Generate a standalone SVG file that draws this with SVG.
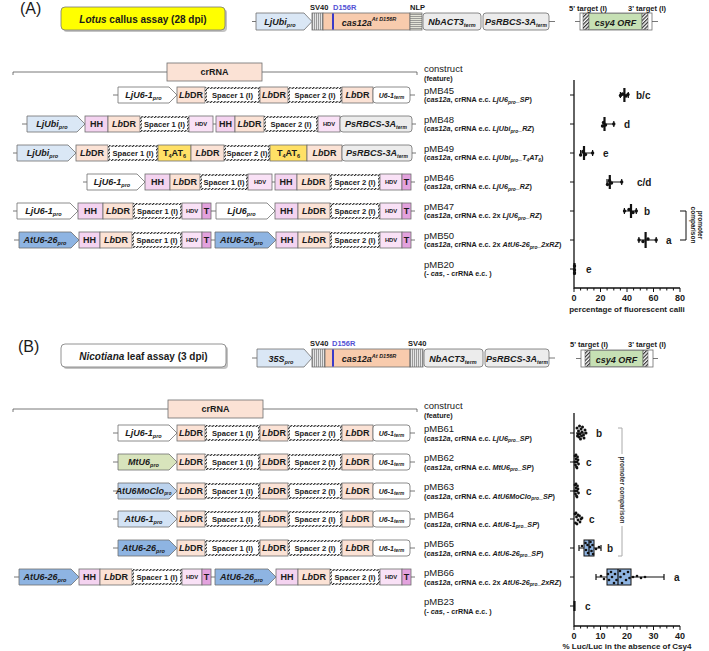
<svg xmlns="http://www.w3.org/2000/svg" width="709" height="651" viewBox="0 0 709 651">
<defs>
<pattern id="hz" width="2.4" height="2.4" patternUnits="userSpaceOnUse" patternTransform="rotate(45)"><rect width="2.4" height="2.4" fill="#fff"/><rect width="1.1" height="2.4" fill="#222"/></pattern>
<pattern id="vs" width="2" height="4" patternUnits="userSpaceOnUse"><rect width="2" height="4" fill="#e4e4e4"/><rect width="0.7" height="4" fill="#7a7a7a"/></pattern>
<pattern id="hs" width="4" height="2" patternUnits="userSpaceOnUse"><rect width="4" height="2" fill="#e4e4d8"/><rect width="4" height="0.7" fill="#7a7a7a"/></pattern>
<pattern id="dg" width="2.6" height="2.6" patternUnits="userSpaceOnUse" patternTransform="rotate(45)"><rect width="2.6" height="2.6" fill="#fff"/><rect width="1.2" height="2.6" fill="#333"/></pattern>
<style>
text{font-family:"Liberation Sans",Arial,Helvetica,sans-serif;fill:#1a1a1a}
.o{stroke:#6e6e6e;stroke-width:0.8}
.ln{stroke:#555;stroke-width:0.8;fill:none}
.w{fill:#fff}.lb{fill:#dae7f5}.bl{fill:#8eb4e2}.bl2{fill:#d3e3f5}.bl3{fill:#bcd3ee}.gr{fill:#d8e4bc}
.dr{fill:#fbe2d5}.hh{fill:#f4d3f0}.hd{fill:#f9e1f6}.tt{fill:#e3a2de}.ta{fill:#ffe066}.tm{fill:#ececec}
.sp{fill:#fff;stroke:url(#hz);stroke-width:2}
.c9{font-size:9px;font-weight:bold;text-anchor:middle}
.c8{font-size:7.6px;font-weight:bold;text-anchor:middle}
.c6{font-size:5.8px;font-weight:bold;text-anchor:middle}
.pr{font-size:9px;font-weight:bold;font-style:italic;text-anchor:middle}
.tmx{font-size:7px;font-weight:bold;font-style:italic;text-anchor:middle}
.l1{font-size:9.5px}
.l2{font-size:7.2px;font-weight:bold}
.i{font-style:italic}
.s{font-size:4.8px}
.sb{font-size:5.5px}
.tl{font-size:7.5px;font-weight:bold}
.lt{font-size:10px;font-weight:bold}
.ax{stroke:#111;stroke-width:1.3;fill:none}
.tk{stroke:#111;stroke-width:1;fill:none}
.eb{stroke:#111;stroke-width:1.2;fill:none}
.mn{stroke:#111;stroke-width:2.2}
.dt{fill:#111}
.ak{font-size:9px;font-weight:bold;text-anchor:middle}
.at{font-size:8px;font-weight:bold;text-anchor:middle}
.bx{fill:#8eb4e2;stroke:#111;stroke-width:1}
.br{stroke:#aaa;stroke-width:1;fill:none}
.pc{font-size:6.5px;font-weight:bold;text-anchor:middle}
</style>
</defs>
<rect width="709" height="651" fill="#fff"/>

<!-- ================= PANEL A ================= -->
<text x="20" y="14" font-size="16">(A)</text>
<g id="lotus-title">
<rect x="63" y="9" width="164" height="23" rx="4" fill="#c4c4c4"/>
<rect x="61" y="7" width="164" height="23" rx="4" fill="#ffff00" stroke="#777" stroke-width="0.8"/>
<text class="lt" x="143" y="22.5" text-anchor="middle"><tspan class="i">Lotus</tspan> callus assay (28 dpi)</text>
</g>

<g id="A-cas-construct">
<line class="ln" x1="252" y1="21.5" x2="256" y2="21.5"/>
<polygon class="o lb" points="256,13 304,13 312,21.5 304,30 256,30"/>
<text class="pr" x="280" y="25">LjUbi<tspan class="sb" dy="2">pro</tspan></text>
<rect class="o" x="312" y="13" width="11" height="17" fill="url(#vs)"/>
<rect class="o" x="323" y="13" width="87" height="17" fill="#f8cbad"/>
<rect x="332" y="13.4" width="2" height="16.2" fill="#3b3bc8"/>
<text class="pr" x="369" y="25.5" font-size="10">cas12a<tspan font-size="5.5" dy="-4.5">At D156R</tspan></text>
<rect class="o" x="410" y="13" width="12" height="17" fill="url(#hs)"/>
<rect class="o tm" x="423" y="13" width="58" height="17" rx="3"/>
<text class="pr" x="452" y="25">NbACT3<tspan class="sb" dy="2">term</tspan></text>
<rect class="o tm" x="483" y="13" width="66" height="17" rx="3"/>
<text class="pr" x="516" y="25" font-size="8.5">PsRBCS-3A<tspan font-size="5" dy="2">term</tspan></text>
<line class="ln" x1="549" y1="21.5" x2="555" y2="21.5"/>
<text class="tl" x="310" y="10">SV40</text>
<text class="tl" x="333" y="10" style="fill:#5252d4">D156R</text>
<text class="tl" x="410" y="10">NLP</text>
</g>

<g id="A-csy4-construct">
<line class="ln" x1="575" y1="21.5" x2="580" y2="21.5"/>
<rect class="o w" x="580" y="13" width="72" height="17"/>
<rect x="583" y="13.5" width="6" height="16" fill="url(#dg)" stroke="#555" stroke-width="0.5"/>
<rect x="589" y="13.5" width="53" height="16" fill="#c6e0b4" stroke="#555" stroke-width="0.5"/>
<rect x="642" y="13.5" width="6" height="16" fill="url(#dg)" stroke="#555" stroke-width="0.5"/>
<text class="pr" x="615.5" y="25.5" font-size="10.5">csy4 ORF</text>
<line class="ln" x1="652" y1="21.5" x2="658" y2="21.5"/>
<text class="tl" x="569" y="10.5" font-size="7">5' target (I)</text>
<text class="tl" x="628" y="10.5" font-size="7">3' target (I)</text>
</g>

<g id="A-crRNA-bracket">
<path class="ln" d="M13,75V72H167 M262,72H417V75"/>
<rect class="o dr" x="167" y="63" width="95" height="18"/>
<text class="c9" x="214.5" y="75.3">crRNA</text>
<text class="l1" x="424" y="72">construct</text>
<text class="l2" x="424" y="81">(feature)</text>
</g>

<!-- A rows -->
<g id="pMB45">
<line class="ln" x1="113" y1="95" x2="118" y2="95"/>
<polygon class="o w" points="118,87 169,87 177,95 169,103 118,103"/>
<text class="pr" x="143.5" y="98.2">LjU6-1<tspan class="sb" dy="2">pro</tspan></text>
<rect class="o dr" x="177" y="87" width="28" height="16"/><text class="c9" x="191" y="98.2"><tspan class="i">Lb</tspan>DR</text>
<rect class="sp" x="206" y="88" width="53" height="14"/><text class="c8" x="232.5" y="97.7">Spacer 1 (I)</text>
<rect class="o dr" x="260" y="87" width="28" height="16"/><text class="c9" x="274" y="98.2"><tspan class="i">Lb</tspan>DR</text>
<rect class="sp" x="289" y="88" width="52" height="14"/><text class="c8" x="315" y="97.7">Spacer 2 (I)</text>
<rect class="o dr" x="342" y="87" width="31" height="16"/><text class="c9" x="357.5" y="98.2"><tspan class="i">Lb</tspan>DR</text>
<rect class="o w" x="373" y="87" width="37" height="16" rx="3"/><text class="tmx" x="391.5" y="97.7">U6-1<tspan class="s" dy="1.5">term</tspan></text>
<line class="ln" x1="410" y1="95" x2="415" y2="95"/>
<text class="l1" x="424" y="94">pMB45</text>
<text class="l2" x="424" y="102">(<tspan class="i">cas12a</tspan>, crRNA e.c. <tspan class="i">LjU6</tspan><tspan class="i s" dy="1.5">pro</tspan><tspan class="i" dy="-1.5">_SP</tspan>)</text>
</g>

<g id="pMB48">
<line class="ln" x1="22" y1="124" x2="27" y2="124"/>
<polygon class="o lb" points="27,116 77,116 85,124 77,132 27,132"/>
<text class="pr" x="52" y="127.2">LjUbi<tspan class="sb" dy="2">pro</tspan></text>
<rect class="o hh" x="85" y="116" width="23" height="16"/><text class="c9" x="96.5" y="127.2">HH</text>
<rect class="o dr" x="108" y="116" width="32" height="16"/><text class="c9" x="124" y="127.2"><tspan class="i">Lb</tspan>DR</text>
<rect class="sp" x="141" y="117" width="47" height="14"/><text class="c8" x="164.5" y="126.7">Spacer 1 (I)</text>
<rect class="o hd" x="189" y="116" width="24" height="16"/><text class="c6" x="201" y="126.1">HDV</text>
<line class="ln" x1="213" y1="124" x2="216" y2="124"/>
<rect class="o hh" x="216" y="116" width="19" height="16"/><text class="c9" x="225.5" y="127.2">HH</text>
<rect class="o dr" x="235" y="116" width="29" height="16"/><text class="c9" x="249.5" y="127.2"><tspan class="i">Lb</tspan>DR</text>
<rect class="sp" x="265" y="117" width="52" height="14"/><text class="c8" x="291" y="126.7">Spacer 2 (I)</text>
<rect class="o hd" x="318" y="116" width="22" height="16"/><text class="c6" x="329" y="126.1">HDV</text>
<rect class="o tm" x="340" y="116" width="72" height="16" rx="3"/><text class="pr" x="376" y="127" font-size="8.5">PsRBCS-3A<tspan font-size="5" dy="2">term</tspan></text>
<line class="ln" x1="412" y1="124" x2="416" y2="124"/>
<text class="l1" x="424" y="123">pMB48</text>
<text class="l2" x="424" y="131">(<tspan class="i">cas12a</tspan>, crRNA e.c. <tspan class="i">LjUbi</tspan><tspan class="i s" dy="1.5">pro</tspan><tspan class="i" dy="-1.5">_RZ</tspan>)</text>
</g>

<g id="pMB49">
<line class="ln" x1="13" y1="153" x2="17" y2="153"/>
<polygon class="o lb" points="17,145 68,145 76,153 68,161 17,161"/>
<text class="pr" x="42.5" y="156.2">LjUbi<tspan class="sb" dy="2">pro</tspan></text>
<rect class="o dr" x="76" y="145" width="32" height="16"/><text class="c9" x="92" y="156.2"><tspan class="i">Lb</tspan>DR</text>
<rect class="sp" x="109" y="146" width="48" height="14"/><text class="c8" x="133" y="155.7">Spacer 1 (I)</text>
<rect class="o ta" x="158" y="145" width="33" height="16"/><text class="c9" x="174.5" y="156.2">T<tspan class="sb" dy="2">4</tspan><tspan dy="-2">AT</tspan><tspan class="sb" dy="2">6</tspan></text>
<rect class="o dr" x="191" y="145" width="33" height="16"/><text class="c9" x="207.5" y="156.2"><tspan class="i">Lb</tspan>DR</text>
<rect class="sp" x="225" y="146" width="44" height="14"/><text class="c8" x="247" y="155.7" font-size="7.2">Spacer 2 (I)</text>
<rect class="o ta" x="270" y="145" width="37" height="16"/><text class="c9" x="288.5" y="156.2">T<tspan class="sb" dy="2">4</tspan><tspan dy="-2">AT</tspan><tspan class="sb" dy="2">6</tspan></text>
<rect class="o dr" x="307" y="145" width="35" height="16"/><text class="c9" x="324.5" y="156.2"><tspan class="i">Lb</tspan>DR</text>
<rect class="o tm" x="342" y="145" width="70" height="16" rx="3"/><text class="pr" x="377" y="156" font-size="8.5">PsRBCS-3A<tspan font-size="5" dy="2">term</tspan></text>
<line class="ln" x1="412" y1="153" x2="416" y2="153"/>
<text class="l1" x="424" y="152">pMB49</text>
<text class="l2" x="424" y="160">(<tspan class="i">cas12a</tspan>, crRNA e.c. <tspan class="i">LjUbi</tspan><tspan class="i s" dy="1.5">pro</tspan><tspan class="i" dy="-1.5">_T</tspan><tspan class="i s" dy="1.5">4</tspan><tspan class="i" dy="-1.5">AT</tspan><tspan class="i s" dy="1.5">6</tspan><tspan dy="-1.5">)</tspan></text>
</g>

<g id="pMB46">
<line class="ln" x1="83" y1="182" x2="87" y2="182"/>
<polygon class="o w" points="87,174 137,174 145,182 137,190 87,190"/>
<text class="pr" x="112" y="185.2">LjU6-1<tspan class="sb" dy="2">pro</tspan></text>
<rect class="o hh" x="145" y="174" width="25" height="16"/><text class="c9" x="157.5" y="185.2">HH</text>
<rect class="o dr" x="170" y="174" width="30" height="16"/><text class="c9" x="185" y="185.2"><tspan class="i">Lb</tspan>DR</text>
<rect class="sp" x="201" y="175" width="46" height="14"/><text class="c8" x="224" y="184.7">Spacer 1 (I)</text>
<rect class="o hd" x="248" y="174" width="24" height="16"/><text class="c6" x="260" y="184.1">HDV</text>
<line class="ln" x1="272" y1="182" x2="275" y2="182"/>
<rect class="o hh" x="275" y="174" width="22" height="16"/><text class="c9" x="286" y="185.2">HH</text>
<rect class="o dr" x="297" y="174" width="33" height="16"/><text class="c9" x="313.5" y="185.2"><tspan class="i">Lb</tspan>DR</text>
<rect class="sp" x="331" y="175" width="48" height="14"/><text class="c8" x="355" y="184.7">Spacer 2 (I)</text>
<rect class="o hd" x="380" y="174" width="22" height="16"/><text class="c6" x="391" y="184.1">HDV</text>
<rect class="o tt" x="402" y="174" width="9" height="16"/><text class="c9" x="406.5" y="185.2">T</text>
<line class="ln" x1="411" y1="182" x2="415" y2="182"/>
<text class="l1" x="424" y="181">pMB46</text>
<text class="l2" x="424" y="189">(<tspan class="i">cas12a</tspan>, crRNA e.c. <tspan class="i">LjU6</tspan><tspan class="i s" dy="1.5">pro</tspan><tspan class="i" dy="-1.5">_RZ</tspan>)</text>
</g>

<g id="pMB47">
<line class="ln" x1="13" y1="211" x2="17" y2="211"/>
<polygon class="o w" points="17,203 70,203 78,211 70,219 17,219"/>
<text class="pr" x="43.5" y="214.2">LjU6-1<tspan class="sb" dy="2">pro</tspan></text>
<rect class="o hh" x="78" y="203" width="25" height="16"/><text class="c9" x="90.5" y="214.2">HH</text>
<rect class="o dr" x="103" y="203" width="30" height="16"/><text class="c9" x="118" y="214.2"><tspan class="i">Lb</tspan>DR</text>
<rect class="sp" x="134" y="204" width="47" height="14"/><text class="c8" x="157.5" y="213.7">Spacer 1 (I)</text>
<rect class="o hd" x="182" y="203" width="20" height="16"/><text class="c6" x="192" y="213.1">HDV</text>
<rect class="o tt" x="202" y="203" width="9" height="16"/><text class="c9" x="206.5" y="214.2">T</text>
<line class="ln" x1="211" y1="211" x2="216" y2="211"/>
<polygon class="o w" points="216,203 267,203 275,211 267,219 216,219"/>
<text class="pr" x="241.5" y="214.2">LjU6<tspan class="sb" dy="2">pro</tspan></text>
<rect class="o hh" x="275" y="203" width="23" height="16"/><text class="c9" x="286.5" y="214.2">HH</text>
<rect class="o dr" x="298" y="203" width="32" height="16"/><text class="c9" x="314" y="214.2"><tspan class="i">Lb</tspan>DR</text>
<rect class="sp" x="331" y="204" width="48" height="14"/><text class="c8" x="355" y="213.7">Spacer 2 (I)</text>
<rect class="o hd" x="380" y="203" width="22" height="16"/><text class="c6" x="391" y="213.1">HDV</text>
<rect class="o tt" x="402" y="203" width="9" height="16"/><text class="c9" x="406.5" y="214.2">T</text>
<line class="ln" x1="411" y1="211" x2="415" y2="211"/>
<text class="l1" x="424" y="210">pMB47</text>
<text class="l2" x="424" y="218">(<tspan class="i">cas12a</tspan>, crRNA e.c. 2x <tspan class="i">LjU6</tspan><tspan class="i s" dy="1.5">pro</tspan><tspan class="i" dy="-1.5">_RZ</tspan>)</text>
</g>

<g id="pMB50">
<line class="ln" x1="14" y1="240" x2="19" y2="240"/>
<polygon class="o bl" points="19,232 71,232 79,240 71,248 19,248"/>
<text class="pr" x="45" y="243.2">AtU6-26<tspan class="sb" dy="2">pro</tspan></text>
<rect class="o hh" x="79" y="232" width="21" height="16"/><text class="c9" x="89.5" y="243.2">HH</text>
<rect class="o dr" x="100" y="232" width="32" height="16"/><text class="c9" x="116" y="243.2"><tspan class="i">Lb</tspan>DR</text>
<rect class="sp" x="133" y="233" width="48" height="14"/><text class="c8" x="157" y="242.7">Spacer 1 (I)</text>
<rect class="o hd" x="182" y="232" width="20" height="16"/><text class="c6" x="192" y="242.1">HDV</text>
<rect class="o tt" x="202" y="232" width="9" height="16"/><text class="c9" x="206.5" y="243.2">T</text>
<line class="ln" x1="211" y1="240" x2="215" y2="240"/>
<polygon class="o bl" points="215,232 268,232 276,240 268,248 215,248"/>
<text class="pr" x="241.5" y="243.2">AtU6-26<tspan class="sb" dy="2">pro</tspan></text>
<rect class="o hh" x="276" y="232" width="22" height="16"/><text class="c9" x="287" y="243.2">HH</text>
<rect class="o dr" x="298" y="232" width="32" height="16"/><text class="c9" x="314" y="243.2"><tspan class="i">Lb</tspan>DR</text>
<rect class="sp" x="331" y="233" width="48" height="14"/><text class="c8" x="355" y="242.7">Spacer 2 (I)</text>
<rect class="o hd" x="380" y="232" width="22" height="16"/><text class="c6" x="391" y="242.1">HDV</text>
<rect class="o tt" x="402" y="232" width="9" height="16"/><text class="c9" x="406.5" y="243.2">T</text>
<line class="ln" x1="411" y1="240" x2="415" y2="240"/>
<text class="l1" x="424" y="239">pMB50</text>
<text class="l2" x="424" y="247">(<tspan class="i">cas12a</tspan>, crRNA e.c. 2x <tspan class="i">AtU6-26</tspan><tspan class="i s" dy="1.5">pro</tspan><tspan class="i" dy="-1.5">_2xRZ</tspan>)</text>
</g>

<g id="pMB20">
<text class="l1" x="424" y="268">pMB20</text>
<text class="l2" x="424" y="276">(- <tspan class="i">cas</tspan>, - crRNA e.c. )</text>
</g>

<!-- Chart A -->
<g id="chartA">
<path class="ax" d="M574,80V288H680"/>
<path class="tk" d="M570,95h4 M570,124h4 M570,153h4 M570,182h4 M570,211h4 M570,240h4 M570,269h4"/>
<path class="tk" d="M574,288v4 M580.6,288v2.5 M587.3,288v2.5 M593.9,288v2.5 M600.5,288v4 M607.1,288v2.5 M613.8,288v2.5 M620.4,288v2.5 M627,288v4 M633.6,288v2.5 M640.3,288v2.5 M646.9,288v2.5 M653.5,288v4 M660.1,288v2.5 M666.8,288v2.5 M673.4,288v2.5 M680,288v4"/>
<text class="ak" x="574" y="300.5">0</text><text class="ak" x="600.5" y="300.5">20</text><text class="ak" x="627" y="300.5">40</text><text class="ak" x="653.5" y="300.5">60</text><text class="ak" x="680" y="300.5">80</text>
<text class="at" x="627" y="311.5">percentage of fluorescent calli</text>
<path class="eb" d="M620.4,95H628.3 M620.4,92v6 M628.3,92v6"/><line class="mn" x1="624.4" y1="88" x2="624.4" y2="102"/>
<circle class="dt" cx="620.5" cy="95.5" r="1.7"/><circle class="dt" cx="622.5" cy="94" r="1.7"/><circle class="dt" cx="626" cy="96" r="1.7"/><circle class="dt" cx="628" cy="94.5" r="1.7"/>
<text class="lt" x="636" y="98.5">b/c</text>
<path class="eb" d="M602.5,124H613.8 M613.8,121v6"/><line class="mn" x1="604.5" y1="117" x2="604.5" y2="131"/>
<circle class="dt" cx="602.5" cy="126" r="1.7"/><circle class="dt" cx="603.5" cy="122.5" r="1.7"/><circle class="dt" cx="605.5" cy="125" r="1.7"/><circle class="dt" cx="613.8" cy="124" r="1.7"/>
<text class="lt" x="624" y="127.5">d</text>
<path class="eb" d="M580.6,153H592.6 M580.6,150v6 M592.6,150v6"/><line class="mn" x1="584" y1="146" x2="584" y2="160"/>
<circle class="dt" cx="580.6" cy="155" r="1.7"/><circle class="dt" cx="583" cy="151.5" r="1.7"/><circle class="dt" cx="585.5" cy="154.5" r="1.7"/><circle class="dt" cx="592.6" cy="153" r="1.7"/>
<text class="lt" x="603" y="156.5">e</text>
<path class="eb" d="M607,182H621.7 M607,179v6 M621.7,179v6"/><line class="mn" x1="609.8" y1="175" x2="609.8" y2="189"/>
<circle class="dt" cx="607.5" cy="184.5" r="1.7"/><circle class="dt" cx="609.5" cy="180.5" r="1.7"/><circle class="dt" cx="611.5" cy="183" r="1.7"/><circle class="dt" cx="621.7" cy="182" r="1.7"/>
<text class="lt" x="637" y="185.5">c/d</text>
<path class="eb" d="M624.4,211H636.3 M624.4,208v6 M636.3,208v6"/><line class="mn" x1="631" y1="204" x2="631" y2="218"/>
<circle class="dt" cx="624.5" cy="211" r="1.7"/><circle class="dt" cx="629" cy="209.5" r="1.7"/><circle class="dt" cx="633" cy="212.5" r="1.7"/><circle class="dt" cx="636.3" cy="211" r="1.7"/>
<text class="lt" x="644" y="214.5">b</text>
<path class="eb" d="M638.9,240H656.2 M638.9,237v6 M656.2,237v6"/><line class="mn" x1="645.6" y1="232" x2="645.6" y2="248"/>
<circle class="dt" cx="639" cy="240" r="1.7"/><circle class="dt" cx="643" cy="241.5" r="1.7"/><circle class="dt" cx="648" cy="239" r="1.7"/><circle class="dt" cx="656.2" cy="240" r="1.7"/>
<text class="lt" x="666" y="243.5">a</text>
<line class="mn" x1="574.5" y1="263" x2="574.5" y2="275"/>
<circle class="dt" cx="574.5" cy="266" r="1.7"/><circle class="dt" cx="574.5" cy="270" r="1.7"/><circle class="dt" cx="574.5" cy="273" r="1.7"/>
<text class="lt" x="586" y="272.5">e</text>
</g>
<g id="A-promoter-comparison">
<path class="eb" d="M680,211H686V240H680" style="stroke-width:1"/>
<text class="pc" transform="translate(698,225) rotate(90)">promoter</text>
<text class="pc" transform="translate(690.5,225) rotate(90)">comparison</text>
</g>

<!-- ================= PANEL B ================= -->
<text x="18" y="352" font-size="16">(B)</text>
<g id="nicotiana-title">
<rect x="63" y="346" width="165" height="23" rx="4" fill="#c4c4c4"/>
<rect x="61" y="344" width="165" height="23" rx="4" fill="#fff" stroke="#777" stroke-width="0.8"/>
<text class="lt" x="143.5" y="359.5" text-anchor="middle"><tspan class="i">Nicotiana</tspan> leaf assay (3 dpi)</text>
</g>

<g id="B-cas-construct">
<line class="ln" x1="252" y1="358" x2="257" y2="358"/>
<polygon class="o lb" points="257,349 304,349 312,358 304,367 257,367"/>
<text class="pr" x="281" y="361.5">35S<tspan class="sb" dy="2">pro</tspan></text>
<rect class="o" x="312" y="349" width="13" height="18" fill="url(#vs)"/>
<rect class="o" x="325" y="349" width="85" height="18" fill="#f8cbad"/>
<rect x="332" y="349.4" width="2" height="17.2" fill="#3b3bc8"/>
<text class="pr" x="369" y="362" font-size="10">cas12a<tspan font-size="5.5" dy="-4.5">At D156R</tspan></text>
<rect class="o" x="410" y="349" width="13" height="18" fill="url(#vs)"/>
<rect class="o tm" x="424" y="349" width="59" height="18" rx="3"/>
<text class="pr" x="453" y="361.5">NbACT3<tspan class="sb" dy="2">term</tspan></text>
<rect class="o tm" x="485" y="349" width="64" height="18" rx="3"/>
<text class="pr" x="517" y="361.5" font-size="8.5">PsRBCS-3A<tspan font-size="5" dy="2">term</tspan></text>
<line class="ln" x1="549" y1="358" x2="555" y2="358"/>
<text class="tl" x="310" y="346">SV40</text>
<text class="tl" x="332" y="346" style="fill:#5252d4">D156R</text>
<text class="tl" x="408" y="346">SV40</text>
</g>

<g id="B-csy4-construct">
<line class="ln" x1="576" y1="358.5" x2="581" y2="358.5"/>
<rect class="o w" x="581" y="350" width="72" height="17"/>
<rect x="585" y="350.5" width="5" height="16" fill="url(#dg)" stroke="#555" stroke-width="0.5"/>
<rect x="590" y="350.5" width="53" height="16" fill="#c6e0b4" stroke="#555" stroke-width="0.5"/>
<rect x="643" y="350.5" width="5" height="16" fill="url(#dg)" stroke="#555" stroke-width="0.5"/>
<text class="pr" x="616.5" y="362.5" font-size="10.5">csy4 ORF</text>
<line class="ln" x1="653" y1="358.5" x2="658" y2="358.5"/>
<text class="tl" x="570" y="347" font-size="7">5' target (I)</text>
<text class="tl" x="628" y="347" font-size="7">3' target (I)</text>
</g>

<g id="B-crRNA-bracket">
<path class="ln" d="M13,412V409H168 M263,409H417V412"/>
<rect class="o dr" x="168" y="400" width="95" height="18"/>
<text class="c9" x="215.5" y="412.3">crRNA</text>
<text class="l1" x="424" y="409">construct</text>
<text class="l2" x="424" y="418">(feature)</text>
</g>

<g id="pMB61">
<line class="ln" x1="113" y1="433" x2="118" y2="433"/>
<polygon class="o w" points="118,425 169,425 177,433 169,441 118,441"/>
<text class="pr" x="143.5" y="436.2">LjU6-1<tspan class="sb" dy="2">pro</tspan></text>
<rect class="o dr" x="177" y="425" width="28" height="16"/><text class="c9" x="191" y="436.2"><tspan class="i">Lb</tspan>DR</text>
<rect class="sp" x="206" y="426" width="53" height="14"/><text class="c8" x="232.5" y="435.7">Spacer 1 (I)</text>
<rect class="o dr" x="260" y="425" width="28" height="16"/><text class="c9" x="274" y="436.2"><tspan class="i">Lb</tspan>DR</text>
<rect class="sp" x="289" y="426" width="52" height="14"/><text class="c8" x="315" y="435.7">Spacer 2 (I)</text>
<rect class="o dr" x="342" y="425" width="31" height="16"/><text class="c9" x="357.5" y="436.2"><tspan class="i">Lb</tspan>DR</text>
<rect class="o w" x="373" y="425" width="37" height="16" rx="3"/><text class="tmx" x="391.5" y="435.7">U6-1<tspan class="s" dy="1.5">term</tspan></text>
<line class="ln" x1="410" y1="433" x2="415" y2="433"/>
<text class="l1" x="424" y="432">pMB61</text>
<text class="l2" x="424" y="440.5">(<tspan class="i">cas12a</tspan>, crRNA e.c. <tspan class="i">LjU6</tspan><tspan class="i s" dy="1.5">pro</tspan><tspan class="i" dy="-1.5">_SP</tspan>)</text>
</g>

<g id="pMB62">
<line class="ln" x1="113" y1="462" x2="118" y2="462"/>
<polygon class="o gr" points="118,454 169,454 177,462 169,470 118,470"/>
<text class="pr" x="143.5" y="465.2">MtU6<tspan class="sb" dy="2">pro</tspan></text>
<rect class="o dr" x="177" y="454" width="28" height="16"/><text class="c9" x="191" y="465.2"><tspan class="i">Lb</tspan>DR</text>
<rect class="sp" x="206" y="455" width="53" height="14"/><text class="c8" x="232.5" y="464.7">Spacer 1 (I)</text>
<rect class="o dr" x="260" y="454" width="28" height="16"/><text class="c9" x="274" y="465.2"><tspan class="i">Lb</tspan>DR</text>
<rect class="sp" x="289" y="455" width="52" height="14"/><text class="c8" x="315" y="464.7">Spacer 2 (I)</text>
<rect class="o dr" x="342" y="454" width="31" height="16"/><text class="c9" x="357.5" y="465.2"><tspan class="i">Lb</tspan>DR</text>
<rect class="o w" x="373" y="454" width="37" height="16" rx="3"/><text class="tmx" x="391.5" y="464.7">U6-1<tspan class="s" dy="1.5">term</tspan></text>
<line class="ln" x1="410" y1="462" x2="415" y2="462"/>
<text class="l1" x="424" y="461">pMB62</text>
<text class="l2" x="424" y="469.5">(<tspan class="i">cas12a</tspan>, crRNA e.c. <tspan class="i">MtU6</tspan><tspan class="i s" dy="1.5">pro</tspan><tspan class="i" dy="-1.5">_SP</tspan>)</text>
</g>

<g id="pMB63">
<line class="ln" x1="113" y1="491" x2="118" y2="491"/>
<polygon class="o bl3" points="118,483 169,483 177,491 169,499 118,499"/>
<text class="pr" x="143.5" y="493.6" font-size="7">AtU6MoClo<tspan font-size="4.5" dy="1.5">pro</tspan></text>
<rect class="o dr" x="177" y="483" width="28" height="16"/><text class="c9" x="191" y="494.2"><tspan class="i">Lb</tspan>DR</text>
<rect class="sp" x="206" y="484" width="53" height="14"/><text class="c8" x="232.5" y="493.7">Spacer 1 (I)</text>
<rect class="o dr" x="260" y="483" width="28" height="16"/><text class="c9" x="274" y="494.2"><tspan class="i">Lb</tspan>DR</text>
<rect class="sp" x="289" y="484" width="52" height="14"/><text class="c8" x="315" y="493.7">Spacer 2 (I)</text>
<rect class="o dr" x="342" y="483" width="31" height="16"/><text class="c9" x="357.5" y="494.2"><tspan class="i">Lb</tspan>DR</text>
<rect class="o w" x="373" y="483" width="37" height="16" rx="3"/><text class="tmx" x="391.5" y="493.7">U6-1<tspan class="s" dy="1.5">term</tspan></text>
<line class="ln" x1="410" y1="491" x2="415" y2="491"/>
<text class="l1" x="424" y="490">pMB63</text>
<text class="l2" x="424" y="498.5">(<tspan class="i">cas12a</tspan>, crRNA e.c. <tspan class="i">AtU6MoClo</tspan><tspan class="i s" dy="1.5">pro</tspan><tspan class="i" dy="-1.5">_SP</tspan>)</text>
</g>

<g id="pMB64">
<line class="ln" x1="113" y1="519" x2="118" y2="519"/>
<polygon class="o bl2" points="118,511 169,511 177,519 169,527 118,527"/>
<text class="pr" x="143.5" y="522.2">AtU6-1<tspan class="sb" dy="2">pro</tspan></text>
<rect class="o dr" x="177" y="511" width="28" height="16"/><text class="c9" x="191" y="522.2"><tspan class="i">Lb</tspan>DR</text>
<rect class="sp" x="206" y="512" width="53" height="14"/><text class="c8" x="232.5" y="521.7">Spacer 1 (I)</text>
<rect class="o dr" x="260" y="511" width="28" height="16"/><text class="c9" x="274" y="522.2"><tspan class="i">Lb</tspan>DR</text>
<rect class="sp" x="289" y="512" width="52" height="14"/><text class="c8" x="315" y="521.7">Spacer 2 (I)</text>
<rect class="o dr" x="342" y="511" width="31" height="16"/><text class="c9" x="357.5" y="522.2"><tspan class="i">Lb</tspan>DR</text>
<rect class="o w" x="373" y="511" width="37" height="16" rx="3"/><text class="tmx" x="391.5" y="521.7">U6-1<tspan class="s" dy="1.5">term</tspan></text>
<line class="ln" x1="410" y1="519" x2="415" y2="519"/>
<text class="l1" x="424" y="518">pMB64</text>
<text class="l2" x="424" y="526.5">(<tspan class="i">cas12a</tspan>, crRNA e.c. <tspan class="i">AtU6-1</tspan><tspan class="i s" dy="1.5">pro</tspan><tspan class="i" dy="-1.5">_SP</tspan>)</text>
</g>

<g id="pMB65">
<line class="ln" x1="113" y1="548" x2="118" y2="548"/>
<polygon class="o bl" points="118,540 169,540 177,548 169,556 118,556"/>
<text class="pr" x="143.5" y="551.2">AtU6-26<tspan class="sb" dy="2">pro</tspan></text>
<rect class="o dr" x="177" y="540" width="28" height="16"/><text class="c9" x="191" y="551.2"><tspan class="i">Lb</tspan>DR</text>
<rect class="sp" x="206" y="541" width="53" height="14"/><text class="c8" x="232.5" y="550.7">Spacer 1 (I)</text>
<rect class="o dr" x="260" y="540" width="28" height="16"/><text class="c9" x="274" y="551.2"><tspan class="i">Lb</tspan>DR</text>
<rect class="sp" x="289" y="541" width="52" height="14"/><text class="c8" x="315" y="550.7">Spacer 2 (I)</text>
<rect class="o dr" x="342" y="540" width="31" height="16"/><text class="c9" x="357.5" y="551.2"><tspan class="i">Lb</tspan>DR</text>
<rect class="o w" x="373" y="540" width="37" height="16" rx="3"/><text class="tmx" x="391.5" y="550.7">U6-1<tspan class="s" dy="1.5">term</tspan></text>
<line class="ln" x1="410" y1="548" x2="415" y2="548"/>
<text class="l1" x="424" y="547">pMB65</text>
<text class="l2" x="424" y="555.5">(<tspan class="i">cas12a</tspan>, crRNA e.c. <tspan class="i">AtU6-26</tspan><tspan class="i s" dy="1.5">pro</tspan><tspan class="i" dy="-1.5">_SP</tspan>)</text>
</g>

<g id="pMB66">
<line class="ln" x1="14" y1="577" x2="19" y2="577"/>
<polygon class="o bl" points="19,569 71,569 79,577 71,585 19,585"/>
<text class="pr" x="45" y="580.2">AtU6-26<tspan class="sb" dy="2">pro</tspan></text>
<rect class="o hh" x="79" y="569" width="21" height="16"/><text class="c9" x="89.5" y="580.2">HH</text>
<rect class="o dr" x="100" y="569" width="32" height="16"/><text class="c9" x="116" y="580.2"><tspan class="i">Lb</tspan>DR</text>
<rect class="sp" x="133" y="570" width="48" height="14"/><text class="c8" x="157" y="579.7">Spacer 1 (I)</text>
<rect class="o hd" x="182" y="569" width="20" height="16"/><text class="c6" x="192" y="579.1">HDV</text>
<rect class="o tt" x="202" y="569" width="9" height="16"/><text class="c9" x="206.5" y="580.2">T</text>
<line class="ln" x1="211" y1="577" x2="215" y2="577"/>
<polygon class="o bl" points="215,569 268,569 276,577 268,585 215,585"/>
<text class="pr" x="241.5" y="580.2">AtU6-26<tspan class="sb" dy="2">pro</tspan></text>
<rect class="o hh" x="276" y="569" width="22" height="16"/><text class="c9" x="287" y="580.2">HH</text>
<rect class="o dr" x="298" y="569" width="32" height="16"/><text class="c9" x="314" y="580.2"><tspan class="i">Lb</tspan>DR</text>
<rect class="sp" x="331" y="570" width="48" height="14"/><text class="c8" x="355" y="579.7">Spacer 2 (I)</text>
<rect class="o hd" x="380" y="569" width="22" height="16"/><text class="c6" x="391" y="579.1">HDV</text>
<rect class="o tt" x="402" y="569" width="9" height="16"/><text class="c9" x="406.5" y="580.2">T</text>
<line class="ln" x1="411" y1="577" x2="415" y2="577"/>
<text class="l1" x="424" y="576">pMB66</text>
<text class="l2" x="424" y="584.5">(<tspan class="i">cas12a</tspan>, crRNA e.c. 2x <tspan class="i">AtU6-26</tspan><tspan class="i s" dy="1.5">pro</tspan><tspan class="i" dy="-1.5">_2xRZ</tspan>)</text>
</g>

<g id="pMB23">
<text class="l1" x="424" y="605">pMB23</text>
<text class="l2" x="424" y="613.5">(- <tspan class="i">cas</tspan>, - crRNA e.c. )</text>
</g>

<!-- Chart B -->
<g id="chartB">
<path class="ax" d="M574,413V626H680"/>
<path class="tk" d="M570,433h4 M570,462h4 M570,491h4 M570,519h4 M570,548h4 M570,577h4 M570,606h4"/>
<path class="tk" d="M574,626v4 M580.6,626v2.5 M587.3,626v2.5 M593.9,626v2.5 M600.5,626v4 M607.1,626v2.5 M613.8,626v2.5 M620.4,626v2.5 M627,626v4 M633.6,626v2.5 M640.3,626v2.5 M646.9,626v2.5 M653.5,626v4 M660.1,626v2.5 M666.8,626v2.5 M673.4,626v2.5 M680,626v4"/>
<text class="ak" x="574" y="638.5">0</text><text class="ak" x="600.5" y="638.5">10</text><text class="ak" x="627" y="638.5">20</text><text class="ak" x="653.5" y="638.5">30</text><text class="ak" x="680" y="638.5">40</text>
<text class="at" x="627" y="649">% Luc/Luc in the absence of Csy4</text>
<path class="eb" d="M576,433H587"/>
<g class="dt"><circle cx="577" cy="428" r="1.5"/><circle cx="578.5" cy="431" r="1.5"/><circle cx="580" cy="434" r="1.5"/><circle cx="581" cy="429" r="1.5"/><circle cx="579" cy="437" r="1.5"/><circle cx="582" cy="432" r="1.5"/><circle cx="583.5" cy="435" r="1.5"/><circle cx="585" cy="430" r="1.5"/><circle cx="586" cy="433" r="1.5"/><circle cx="578" cy="434" r="1.5"/><circle cx="580.5" cy="439" r="1.5"/><circle cx="582.5" cy="427" r="1.5"/><circle cx="584" cy="438" r="1.5"/><circle cx="577.5" cy="436" r="1.5"/><circle cx="581.5" cy="436" r="1.5"/><circle cx="579.5" cy="426" r="1.5"/></g>
<text class="lt" x="596" y="436.5">b</text>
<g class="dt"><circle cx="575" cy="456" r="1.4"/><circle cx="576" cy="459" r="1.4"/><circle cx="577" cy="462" r="1.4"/><circle cx="575.5" cy="465" r="1.4"/><circle cx="578" cy="460" r="1.4"/><circle cx="576.5" cy="467" r="1.4"/><circle cx="577.5" cy="457" r="1.4"/><circle cx="575" cy="462" r="1.4"/><circle cx="578.5" cy="464" r="1.4"/><circle cx="576" cy="455" r="1.4"/><circle cx="577" cy="468" r="1.4"/></g>
<text class="lt" x="586" y="465.5">c</text>
<g class="dt"><circle cx="575" cy="485" r="1.4"/><circle cx="576" cy="488" r="1.4"/><circle cx="577" cy="491" r="1.4"/><circle cx="575.5" cy="494" r="1.4"/><circle cx="578" cy="489" r="1.4"/><circle cx="576.5" cy="496" r="1.4"/><circle cx="577.5" cy="486" r="1.4"/><circle cx="575" cy="491" r="1.4"/><circle cx="578.5" cy="493" r="1.4"/><circle cx="576" cy="484" r="1.4"/><circle cx="577" cy="497" r="1.4"/></g>
<text class="lt" x="586" y="494.5">c</text>
<g class="dt"><circle cx="575" cy="514" r="1.4"/><circle cx="576.5" cy="517" r="1.4"/><circle cx="578" cy="520" r="1.4"/><circle cx="575.5" cy="523" r="1.4"/><circle cx="579.5" cy="516" r="1.4"/><circle cx="581" cy="519" r="1.4"/><circle cx="577" cy="524" r="1.4"/><circle cx="580" cy="522" r="1.4"/><circle cx="576" cy="513" r="1.4"/><circle cx="582" cy="518" r="1.4"/><circle cx="578" cy="515" r="1.4"/></g>
<text class="lt" x="589" y="522.5">c</text>
<path class="eb" d="M579,548H584 M594,548H601 M579,545v6 M601,545v6"/>
<rect class="bx" x="584" y="540" width="10" height="16"/>
<line class="eb" x1="589" y1="540" x2="589" y2="556"/>
<g class="dt"><circle cx="582" cy="546" r="1.3"/><circle cx="585.5" cy="543" r="1.3"/><circle cx="586" cy="550" r="1.3"/><circle cx="587.5" cy="545" r="1.3"/><circle cx="588" cy="553" r="1.3"/><circle cx="590" cy="547" r="1.3"/><circle cx="590.5" cy="542" r="1.3"/><circle cx="591.5" cy="551" r="1.3"/><circle cx="592.5" cy="545" r="1.3"/><circle cx="593" cy="554" r="1.3"/><circle cx="596" cy="549" r="1.3"/><circle cx="599" cy="547" r="1.3"/></g>
<text class="lt" x="607" y="551.5">b</text>
<path class="eb" d="M596,577H607 M631,577H664 M596,574v6 M664,574v6"/>
<rect class="bx" x="607" y="569" width="24" height="16"/>
<line class="eb" x1="618" y1="569" x2="618" y2="585"/>
<g class="dt"><circle cx="601" cy="576" r="1.3"/><circle cx="604" cy="579" r="1.3"/><circle cx="608" cy="574" r="1.3"/><circle cx="609" cy="580" r="1.3"/><circle cx="611" cy="572" r="1.3"/><circle cx="612" cy="577" r="1.3"/><circle cx="614" cy="583" r="1.3"/><circle cx="615" cy="574" r="1.3"/><circle cx="616.5" cy="580" r="1.3"/><circle cx="620" cy="571" r="1.3"/><circle cx="620.5" cy="577" r="1.3"/><circle cx="622" cy="583" r="1.3"/><circle cx="624" cy="574" r="1.3"/><circle cx="626" cy="580" r="1.3"/><circle cx="628" cy="572" r="1.3"/><circle cx="629.5" cy="578" r="1.3"/><circle cx="633" cy="577" r="1.3"/><circle cx="637" cy="576" r="1.3"/><circle cx="641" cy="578" r="1.3"/><circle cx="645" cy="577" r="1.3"/></g>
<text class="lt" x="674" y="580.5">a</text>
<line class="mn" x1="574.5" y1="601" x2="574.5" y2="611"/>
<text class="lt" x="585" y="609.5">c</text>
</g>
<g id="B-promoter-comparison">
<path class="br" d="M618,428H622V454 M622,526V556H618"/>
<text class="pc" transform="translate(620,490) rotate(90)" style="fill:#333">promoter comparison</text>
</g>
</svg>
